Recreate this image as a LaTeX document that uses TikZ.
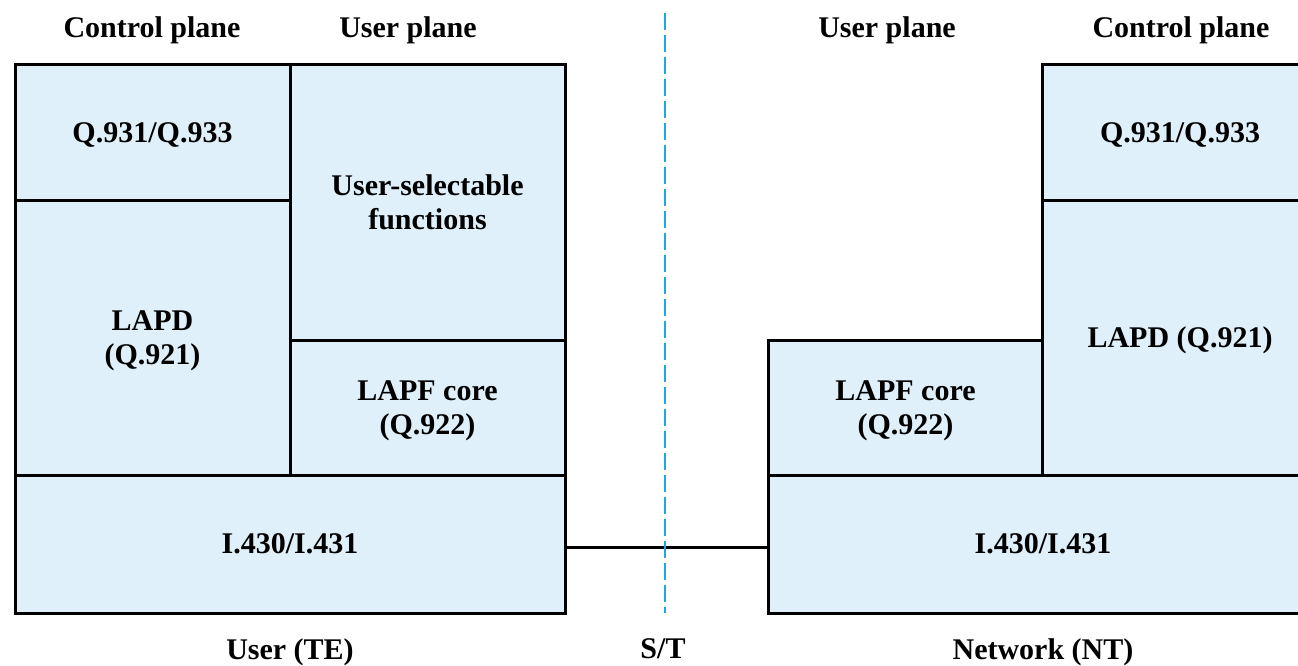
\documentclass[tikz,border=0pt]{standalone}
\usepackage{fontspec}
\setmainfont{Liberation Serif}
\definecolor{layerfill}{HTML}{DFF0FB}
\definecolor{refline}{HTML}{1BA9E1}
\begin{document}
\begin{tikzpicture}[x=1pt,y=-1pt,
  every node/.style={font=\fontsize{30}{34}\selectfont\bfseries, text=black},
  layer/.style={draw=black, fill=layerfill, line width=3pt, align=center,
    inner sep=0pt, outer sep=0pt, text depth=0pt},
  caption/.style={inner sep=0pt, text depth=0pt},
  link/.style={draw=black, line width=3pt},
  refdash/.style={draw=refline, line width=2pt, dash pattern=on 17pt off 5pt}]
\useasboundingbox (0,0) rectangle (1298,666);
\clip (0,0) rectangle (1298,666);

% plane headings
\node[caption] (hcl) at (152,27) {Control plane};
\node[caption] (hul) at (408,27) {User plane};
\node[caption] (hur) at (887,27) {User plane};
\node[caption] (hcr) at (1181,27) {Control plane};

% user side (TE) protocol stack
\node[layer, minimum width=275pt, minimum height=135pt] (teQ) at (152.5,132.5) {Q.931/Q.933};
\node[layer, minimum width=275pt, minimum height=275pt] (teLapd) at (152.5,337.5) {LAPD\\(Q.921)};
\node[layer, minimum width=275pt, minimum height=275pt] (teUsf) at (427.5,202.5) {User-selectable\\functions};
\node[layer, minimum width=275pt, minimum height=135pt] (teLapf) at (427.5,407.5) {LAPF core\\(Q.922)};
\node[layer, minimum width=550pt, minimum height=138pt] (teL) at (290,544) {I.430/I.431};

% network side (NT) protocol stack
\node[layer, minimum width=275pt, minimum height=135pt] (ntLapf) at (905.5,407.5) {LAPF core\\(Q.922)};
\node[layer, minimum width=276pt, minimum height=135pt] (ntQ) at (1180,132.5) {Q.931/Q.933};
\node[layer, minimum width=276pt, minimum height=275pt] (ntLapd) at (1180,337.5) {LAPD (Q.921)};
\node[layer, minimum width=550pt, minimum height=138pt] (ntL) at (1043,544) {I.430/I.431};

% physical link across the S/T reference point
\draw[link] ([yshift=-3pt]teL.east) -- ([yshift=-3pt]ntL.west);

% S/T reference point
\coordinate (stTop) at (665,13);
\coordinate (stBot) at (665,613);
\draw[refdash] (stTop) -- (stBot);

% bottom captions
\node[caption] (cte) at (290,649) {User (TE)};
\node[caption] (cst) at (663,649) {S/T};
\node[caption] (cnt) at (1043,649) {Network (NT)};
\end{tikzpicture}
\end{document}
